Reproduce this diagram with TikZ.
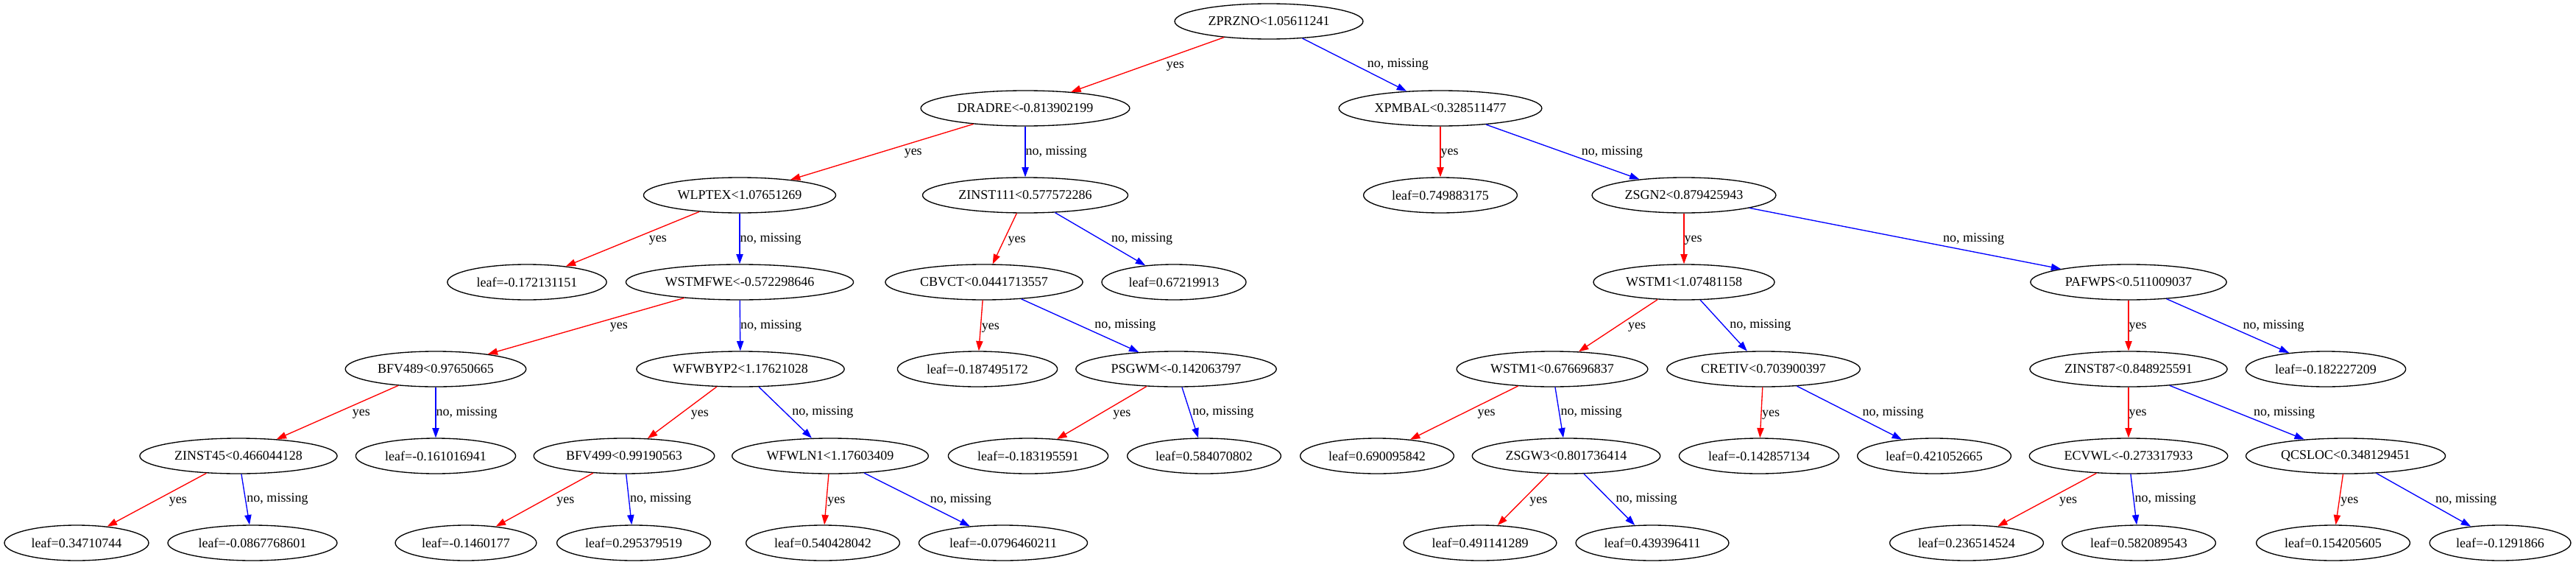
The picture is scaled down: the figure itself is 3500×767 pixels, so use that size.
\documentclass[tikz,border=0pt]{standalone}
\usepackage{fontspec}
\setmainfont{Liberation Serif}
\usetikzlibrary{shapes.geometric,arrows.meta}
\tikzset{
  tnode/.style={ellipse, draw=black, line width=1pt, minimum height=36pt,
    inner xsep=6pt, inner ysep=0pt, font=\fontsize{13.5}{16}\selectfont},
  edgebase/.style={line width=1pt, -{Triangle[length=10pt,width=7pt]}},
  yesedge/.style={edgebase, draw=red, fill=red},
  noedge/.style={edgebase, draw=blue, fill=blue},
  lbl/.style={inner sep=0pt, text height=9.5pt, text depth=3pt, font=\fontsize{13.5}{16}\selectfont, text=black},
  lblL/.style={lbl, pos=0.38, anchor=north west},
  lblR/.style={lbl, pos=0.62, anchor=south west},
  lblV/.style={lbl, pos=0.5, anchor=west},
}
\newcommand\yedge[3]{\draw[yesedge] (#1) -- node[#3]{yes} (#2);}
\newcommand\nedge[3]{\draw[noedge] (#1) -- node[#3]{no, missing} (#2);}
\begin{document}
\begin{tikzpicture}[x=0.75pt,y=-0.75pt]
\useasboundingbox (0,0) rectangle (3500,767);
\def\ya{29}\def\yb{147}\def\yc{265}\def\yd{383}\def\ye{501}\def\yf{619}\def\yg{737}
% level 0
\node[tnode] (n0) at (1724,\ya) {ZPRZNO<1.05611241};
% level 1
\node[tnode] (n1) at (1393,\yb) {DRADRE<-0.813902199};
\node[tnode] (n2) at (1957,\yb) {XPMBAL<0.328511477};
% level 2
\node[tnode] (n3) at (1005,\yc) {WLPTEX<1.07651269};
\node[tnode] (n4) at (1393,\yc) {ZINST111<0.577572286};
\node[tnode] (n5) at (1957,\yc) {leaf=0.749883175};
\node[tnode] (n6) at (2288,\yc) {ZSGN2<0.879425943};
% level 3
\node[tnode] (n7) at (716,\yd) {leaf=-0.172131151};
\node[tnode] (n8) at (1005,\yd) {WSTMFWE<-0.572298646};
\node[tnode] (n9) at (1337,\yd) {CBVCT<0.0441713557};
\node[tnode] (n10) at (1595,\yd) {leaf=0.67219913};
\node[tnode] (n11) at (2288,\yd) {WSTM1<1.07481158};
\node[tnode] (n12) at (2892,\yd) {PAFWPS<0.511009037};
% level 4
\node[tnode] (n13) at (592,\ye) {BFV489<0.97650665};
\node[tnode] (n14) at (1006,\ye) {WFWBYP2<1.17621028};
\node[tnode] (n15) at (1328,\ye) {leaf=-0.187495172};
\node[tnode] (n16) at (1598,\ye) {PSGWM<-0.142063797};
\node[tnode] (n17) at (2109,\ye) {WSTM1<0.676696837};
\node[tnode] (n18) at (2396,\ye) {CRETIV<0.703900397};
\node[tnode] (n19) at (2892,\ye) {ZINST87<0.848925591};
\node[tnode] (n20) at (3160,\ye) {leaf=-0.182227209};
% level 5
\node[tnode] (n21) at (324,\yf) {ZINST45<0.466044128};
\node[tnode] (n22) at (592,\yf) {leaf=-0.161016941};
\node[tnode] (n23) at (848,\yf) {BFV499<0.99190563};
\node[tnode] (n24) at (1128,\yf) {WFWLN1<1.17603409};
\node[tnode] (n25) at (1397,\yf) {leaf=-0.183195591};
\node[tnode] (n26) at (1636,\yf) {leaf=0.584070802};
\node[tnode] (n27) at (1871,\yf) {leaf=0.690095842};
\node[tnode] (n28) at (2128,\yf) {ZSGW3<0.801736414};
\node[tnode] (n29) at (2390,\yf) {leaf=-0.142857134};
\node[tnode] (n30) at (2628,\yf) {leaf=0.421052665};
\node[tnode] (n31) at (2892,\yf) {ECVWL<-0.273317933};
\node[tnode] (n32) at (3187,\yf) {QCSLOC<0.348129451};
% level 6
\node[tnode] (n33) at (104,\yg) {leaf=0.34710744};
\node[tnode] (n34) at (343,\yg) {leaf=-0.0867768601};
\node[tnode] (n35) at (633,\yg) {leaf=-0.1460177};
\node[tnode] (n36) at (861,\yg) {leaf=0.295379519};
\node[tnode] (n37) at (1118,\yg) {leaf=0.540428042};
\node[tnode] (n38) at (1363,\yg) {leaf=-0.0796460211};
\node[tnode] (n39) at (2011,\yg) {leaf=0.491141289};
\node[tnode] (n40) at (2245,\yg) {leaf=0.439396411};
\node[tnode] (n41) at (2672,\yg) {leaf=0.236514524};
\node[tnode] (n42) at (2906,\yg) {leaf=0.582089543};
\node[tnode] (n43) at (3170,\yg) {leaf=0.154205605};
\node[tnode] (n44) at (3397,\yg) {leaf=-0.1291866};
% edges
\yedge{n0}{n1}{lblL} \nedge{n0}{n2}{lblR}
\yedge{n1}{n3}{lblL} \nedge{n1}{n4}{lblV}
\yedge{n2}{n5}{lblV} \nedge{n2}{n6}{lblR}
\yedge{n3}{n7}{lblL} \nedge{n3}{n8}{lblV}
\yedge{n4}{n9}{lblL} \nedge{n4}{n10}{lblR}
\yedge{n6}{n11}{lblV} \nedge{n6}{n12}{lblR}
\yedge{n8}{n13}{lblL} \nedge{n8}{n14}{lblV}
\yedge{n9}{n15}{lblL} \nedge{n9}{n16}{lblR}
\yedge{n11}{n17}{lblL} \nedge{n11}{n18}{lblR}
\yedge{n12}{n19}{lblV} \nedge{n12}{n20}{lblR}
\yedge{n13}{n21}{lblL} \nedge{n13}{n22}{lblV}
\yedge{n14}{n23}{lblL} \nedge{n14}{n24}{lblR}
\yedge{n16}{n25}{lblL} \nedge{n16}{n26}{lblR}
\yedge{n17}{n27}{lblL} \nedge{n17}{n28}{lblR}
\yedge{n18}{n29}{lblL} \nedge{n18}{n30}{lblR}
\yedge{n19}{n31}{lblV} \nedge{n19}{n32}{lblR}
\yedge{n21}{n33}{lblL} \nedge{n21}{n34}{lblR}
\yedge{n23}{n35}{lblL} \nedge{n23}{n36}{lblR}
\yedge{n24}{n37}{lblL} \nedge{n24}{n38}{lblR}
\yedge{n28}{n39}{lblL} \nedge{n28}{n40}{lblR}
\yedge{n31}{n41}{lblL} \nedge{n31}{n42}{lblR}
\yedge{n32}{n43}{lblL} \nedge{n32}{n44}{lblR}
\end{tikzpicture}
\end{document}
